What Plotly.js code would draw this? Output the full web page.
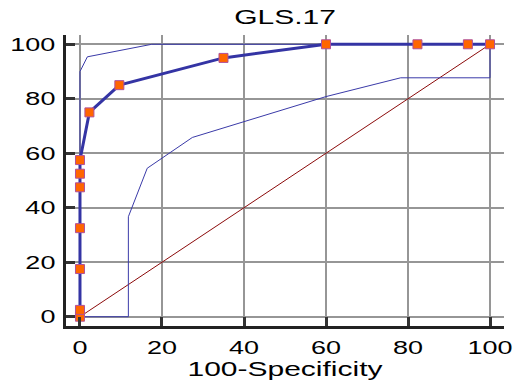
<!DOCTYPE html>
<html>
<head>
<meta charset="utf-8">
<script src="https://cdn.plot.ly/plotly-3.0.1.min.js"></script>
<style>
  html, body { margin: 0; padding: 0; background: #fff; }
  #chart { width: 515px; height: 386px; }
</style>
</head>
<body>
<div id="chart"></div>
<script>
// ROC curve points (100-Specificity, Sensitivity)
const rocX = [0, 0, 0, 0, 0, 0, 0, 2.3, 9.6, 35, 60, 82.3, 94.6, 100];
const rocY = [0, 2.5, 17.5, 32.5, 47.5, 52.5, 57.5, 75, 85, 95, 100, 100, 100, 100];
// Upper confidence bound
const upperX = [0, 0, 1.8, 17.5, 100];
const upperY = [0, 90, 95.4, 100, 100];
// Lower confidence bound
const lowerX = [0, 11.8, 11.8, 16.4, 27.4, 60, 78.2, 100, 100];
const lowerY = [0, 0, 36.7, 54.5, 65.8, 80.8, 87.7, 87.7, 100];
// Reference diagonal
const diagX = [0, 100];
const diagY = [0, 100];
const tickVals = [0, 20, 40, 60, 80, 100];
const minorStep = 5;
const chartTitle = 'GLS.17';
const xTitle = '100-Specificity';

const FONT = 'Liberation Sans, Arial, sans-serif';
const RANGE = [-3.41, 103.41];
const GRID = 'rgb(150,150,150)';

const traces = [
  { x: diagX, y: diagY, mode: 'lines', line: { color: '#8b0a0a', width: 1 }, hoverinfo: 'skip' },
  { x: upperX, y: upperY, mode: 'lines', line: { color: '#3a3aa8', width: 1 }, hoverinfo: 'skip' },
  { x: lowerX, y: lowerY, mode: 'lines', line: { color: '#3a3aa8', width: 1 }, hoverinfo: 'skip' },
  { x: rocX, y: rocY, mode: 'lines+markers',
    line: { color: '#3434a4', width: 3 },
    marker: { symbol: 'square', size: 9, color: '#ff6600', line: { color: '#b0509a', width: 1 } } }
];

function makeAxis(extra) {
  return Object.assign({
    range: RANGE,
    tickmode: 'array', tickvals: tickVals,
    showgrid: true, gridcolor: GRID, gridwidth: 2,
    zeroline: false,
    showline: true, linecolor: '#222', linewidth: 3,
    ticks: 'inside', ticklen: 9, tickwidth: 2.5, tickcolor: '#333',
    tickfont: { family: FONT, size: 18, color: '#000' },
    fixedrange: true
  }, extra);
}
function minorAxis(extra) {
  return Object.assign({
    range: RANGE, tickmode: 'linear', tick0: 0, dtick: minorStep,
    showgrid: false, zeroline: false, showline: false, showticklabels: false,
    ticks: 'inside', ticklen: 4, tickwidth: 1.5, tickcolor: '#333', fixedrange: true
  }, extra);
}

const layout = {
  width: 515, height: 386,
  margin: { l: 66, r: 11, t: 35, b: 60 },
  paper_bgcolor: '#fff', plot_bgcolor: '#fff',
  showlegend: false,
  title: { text: chartTitle, font: { family: FONT, size: 20, color: '#000' },
           xref: 'paper', x: 0.5, xanchor: 'center', yref: 'container', y: 1 - 17.5/386, yanchor: 'middle' },
  xaxis: makeAxis({
    title: { text: xTitle, font: { family: FONT, size: 20, color: '#000' }, standoff: 6 },
    ticklabelstandoff: 3
  }),
  yaxis: makeAxis({ ticklabelstandoff: 4 }),
  xaxis2: minorAxis({ overlaying: 'x', side: 'bottom', anchor: 'y' }),
  yaxis2: minorAxis({ overlaying: 'y', side: 'left', anchor: 'x' })
};

function stretchText(gd, s) {
  const sel = gd.querySelectorAll('.xtick text, .ytick text, .g-gtitle text, .g-xtitle text');
  sel.forEach(el => {
    const x = parseFloat(el.getAttribute('x') || '0');
    const t = el.getAttribute('transform') || '';
    el.setAttribute('transform', t + ' translate(' + x + ',0) scale(' + s + ',1) translate(' + (-x) + ',0)');
  });
}

Plotly.newPlot('chart', traces, layout, { displayModeBar: false }).then(gd => stretchText(gd, 1.5));
</script>
</body>
</html>
